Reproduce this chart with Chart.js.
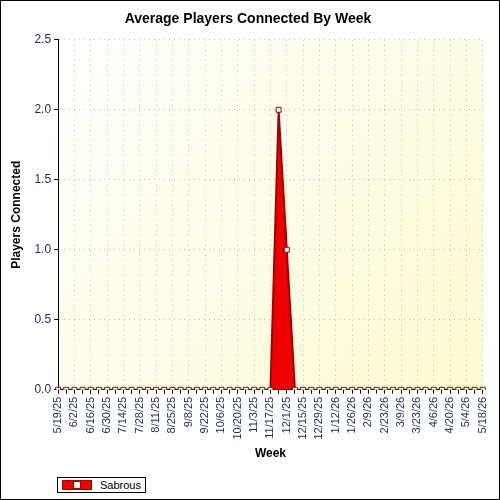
<html>
<head>
<script src="https://cdn.jsdelivr.net/npm/chart.js"></script>
<style>
body { margin: 0; background: #fff; }
#wrap { position: absolute; left: 0; top: 0; width: 498px; height: 498px; border: 1px solid #000; }
#leg { position: absolute; left: 57px; top: 477px; border: 1px solid #000; padding: 1px 4px; font: 11px 'Liberation Sans'; display: flex; align-items: center; background: #fff; }
#leg i { display: inline-block; width: 28px; height: 8px; background: #ee0000; border: 1px solid #a00000; margin-right: 8px; position: relative; }
#leg i b { position: absolute; left: 10px; top: 0; width: 6px; height: 6px; background: #fff; border: 1px solid #a00000; }
</style>
</head>
<body>
<div id="wrap"><canvas id="c" width="498" height="470"></canvas></div>
<div id="leg"><i><b></b></i>Sabrous</div>
<script>
// weekly dates 5/19/25 .. 5/18/26
const weeks = ['5/19/25','5/26/25','6/2/25','6/9/25','6/16/25','6/23/25','6/30/25','7/7/25','7/14/25','7/21/25',
  '7/28/25','8/4/25','8/11/25','8/18/25','8/25/25','9/1/25','9/8/25','9/15/25','9/22/25','9/29/25',
  '10/6/25','10/13/25','10/20/25','10/27/25','11/3/25','11/10/25','11/17/25','11/24/25','12/1/25','12/8/25',
  '12/15/25','12/22/25','12/29/25','1/5/26','1/12/26','1/19/26','1/26/26','2/2/26','2/9/26','2/16/26',
  '2/23/26','3/2/26','3/9/26','3/16/26','3/23/26','3/30/26','4/6/26','4/13/26','4/20/26','4/27/26',
  '5/4/26','5/11/26','5/18/26'];
const sabrous = weeks.map(w => w === '11/24/25' ? 2 : (w === '12/1/25' ? 1 : 0));
const yTicks = [0, 0.5, 1.0, 1.5, 2.0, 2.5];

const bgPlugin = {
  id: 'bg',
  beforeDraw(chart) {
    const a = chart.chartArea, ctx = chart.ctx;
    const g = ctx.createLinearGradient(a.left, a.top, a.right, a.bottom);
    g.addColorStop(0, '#ffffff');
    g.addColorStop(1, '#fdfbd0');
    ctx.save();
    ctx.fillStyle = g;
    ctx.fillRect(a.left, a.top, a.right - a.left, a.bottom - a.top);
    ctx.restore();
  }
};

new Chart(document.getElementById('c'), {
  type: 'line',
  data: {
    labels: weeks,
    datasets: [{
      label: 'Sabrous',
      data: sabrous,
      borderColor: '#a00000',
      backgroundColor: '#ee0000',
      borderWidth: 2,
      fill: 'origin',
      tension: 0,
      pointStyle: 'rect',
      pointRadius: 3.5,
      pointBackgroundColor: '#ffffff',
      pointBorderColor: '#a00000',
      pointBorderWidth: 1
    }]
  },
  options: {
    responsive: false,
    animation: false,
    layout: { padding: { right: 8, left: 4, top: 0, bottom: 6 } },
    plugins: {
      title: { display: true, text: 'Average Players Connected By Week', color: '#000',
               font: { family: 'Liberation Sans', size: 14, weight: 'bold' }, padding: { top: 10, bottom: 12 } },
      legend: { display: false },
      tooltip: { enabled: false }
    },
    scales: {
      x: {
        grid: { color: c => c.index % 2 === 0 ? '#bbbbbb' : 'rgba(0,0,0,0)', tickColor: '#000', tickLength: 4 },
        border: { color: '#000', dash: [1, 4] },
        title: { display: true, text: 'Week', color: '#000', font: { family: 'Liberation Sans', size: 12, weight: 'bold' } },
        ticks: {
          autoSkip: false, maxRotation: 90, minRotation: 90, color: '#1a2a5a',
          font: { family: 'Liberation Sans', size: 11 },
          callback: (v, i) => i % 2 === 0 ? weeks[i] : ''
        }
      },
      y: {
        min: 0, max: 2.5,
        afterBuildTicks: s => { s.ticks = yTicks.map(v => ({ value: v })); },
        grid: { color: '#bbbbbb', tickColor: '#000', tickLength: 4 },
        border: { color: '#000', dash: [1, 4] },
        title: { display: true, text: 'Players Connected', color: '#000', font: { family: 'Liberation Sans', size: 12, weight: 'bold' }, padding: { bottom: 8 } },
        ticks: { color: '#1a2a5a', font: { family: 'Liberation Sans', size: 12 }, callback: v => v.toFixed(1) }
      }
    }
  },
  plugins: [bgPlugin]
});
</script>
</body>
</html>
